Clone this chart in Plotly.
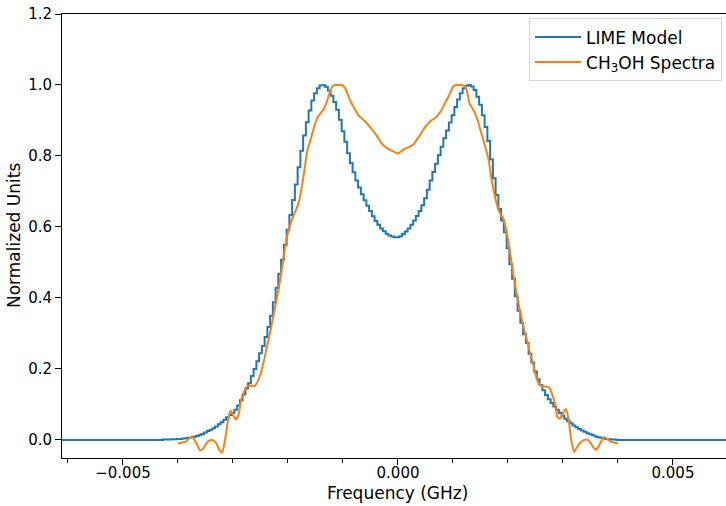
import numpy as np
import plotly.graph_objects as go

# LIME model (step spectrum), channel width 0.00005 GHz, first channel at -0.0044 GHz
lime_start = -0.0044
lime_chan = 0.00005
lime_values = [
    0.000, 0.000, 0.000, 0.001, 0.001, 0.001, 0.002, 0.002, 0.003, 0.003,
    0.004, 0.005, 0.006, 0.007, 0.009, 0.011, 0.014, 0.017, 0.021, 0.025,
    0.029, 0.033, 0.038, 0.044, 0.050, 0.057, 0.064, 0.070, 0.077, 0.085,
    0.097, 0.112, 0.128, 0.145, 0.160, 0.180, 0.200, 0.222, 0.244, 0.265,
    0.290, 0.318, 0.350, 0.388, 0.428, 0.468, 0.508, 0.550, 0.592, 0.634,
    0.676, 0.720, 0.768, 0.815, 0.858, 0.895, 0.928, 0.956, 0.977, 0.991,
    0.999, 0.999, 0.995, 0.984, 0.970, 0.952, 0.930, 0.902, 0.870, 0.840,
    0.808, 0.780, 0.754, 0.731, 0.711, 0.692, 0.675, 0.660, 0.645, 0.630,
    0.617, 0.606, 0.596, 0.588, 0.581, 0.576, 0.573, 0.571, 0.571, 0.574,
    0.580, 0.587, 0.596, 0.606, 0.618, 0.631, 0.645, 0.661, 0.681, 0.705,
    0.731, 0.755, 0.778, 0.802, 0.826, 0.850, 0.872, 0.894, 0.915, 0.938,
    0.959, 0.977, 0.991, 0.998, 1.000, 0.996, 0.986, 0.967, 0.944, 0.915,
    0.882, 0.842, 0.790, 0.737, 0.690, 0.651, 0.618, 0.585, 0.540, 0.495,
    0.454, 0.405, 0.364, 0.330, 0.298, 0.273, 0.243, 0.218, 0.193, 0.171,
    0.155, 0.140, 0.127, 0.115, 0.104, 0.094, 0.085, 0.076, 0.068, 0.060,
    0.053, 0.047, 0.041, 0.036, 0.031, 0.027, 0.023, 0.019, 0.016, 0.013,
    0.010, 0.008, 0.006, 0.004, 0.003, 0.002, 0.001, 0.001, 0.000, 0.000,
    0.000, 0.000, 0.000, 0.000, 0.000, 0.000, 0.000,
]
lime_edges_freq = [-0.0065, 0.0065]  # model continues flat at zero to both ends

# CH3OH spectrum, sampled every 0.00005 GHz from -0.0040 GHz
ch3oh_start = -0.0040
ch3oh_chan = 0.00005
ch3oh_values = [
    -0.010, -0.008, -0.006, -0.004, 0.004, 0.008, 0.001, -0.014, -0.029, -0.026,
    -0.013, -0.004, 0.000, -0.002, -0.010, -0.028, -0.036, -0.005, 0.045, 0.082,
    0.072, 0.058, 0.070, 0.115, 0.135, 0.150, 0.153, 0.152, 0.153, 0.165,
    0.185, 0.215, 0.250, 0.285, 0.322, 0.362, 0.402, 0.444, 0.494, 0.545,
    0.585, 0.612, 0.632, 0.650, 0.672, 0.712, 0.762, 0.815, 0.840, 0.868,
    0.895, 0.912, 0.922, 0.932, 0.950, 0.975, 0.995, 1.000, 1.000, 1.000,
    0.998, 0.988, 0.967, 0.950, 0.936, 0.922, 0.912, 0.905, 0.898, 0.889,
    0.880, 0.870, 0.860, 0.848, 0.836, 0.828, 0.822, 0.818, 0.814, 0.810,
    0.807, 0.812, 0.818, 0.822, 0.825, 0.829, 0.836, 0.848, 0.858, 0.872,
    0.883, 0.892, 0.899, 0.905, 0.910, 0.920, 0.932, 0.948, 0.962, 0.978,
    0.995, 1.000, 1.000, 1.000, 0.998, 0.985, 0.948, 0.935, 0.920, 0.900,
    0.872, 0.846, 0.818, 0.787, 0.736, 0.695, 0.662, 0.640, 0.628, 0.605,
    0.565, 0.515, 0.463, 0.418, 0.378, 0.341, 0.305, 0.278, 0.245, 0.218,
    0.185, 0.162, 0.153, 0.151, 0.150, 0.148, 0.130, 0.105, 0.065, 0.060,
    0.075, 0.087, 0.060, 0.000, -0.034, -0.022, -0.010, -0.003, 0.001, 0.000,
    -0.008, -0.020, -0.028, -0.018, -0.002, 0.008, 0.004, -0.003, -0.006, -0.008,
    -0.009,
]

x_ticks = [-0.005, 0.0, 0.005]
x_tick_text = ["\u22120.005", "0.000", "0.005"]
y_ticks = [0.0, 0.2, 0.4, 0.6, 0.8, 1.0, 1.2]
x_range = [-0.006109, 0.005964]
y_range = [-0.0508, 1.2]

lime_freq = lime_start + lime_chan * np.arange(len(lime_values))
ch3oh_freq = ch3oh_start + ch3oh_chan * np.arange(len(ch3oh_values))

lx = [lime_edges_freq[0]] + list(lime_freq) + [lime_edges_freq[1]]
ly = [0.0] + list(lime_values) + [0.0]

FONT = "DejaVu Sans"
LABEL_SIZE = 17
TICK_SIZE = 15

fig = go.Figure()
fig.add_trace(go.Scatter(
    x=lx, y=ly, mode="lines", name="LIME Model",
    line=dict(color="#1f77b4", width=2, shape="hvh"),
))
fig.add_trace(go.Scatter(
    x=ch3oh_freq, y=ch3oh_values, mode="lines", name="CH<sub>3</sub>OH Spectra",
    line=dict(color="#ff7f0e", width=2, shape="spline", smoothing=0.6),
))

fig.update_layout(
    width=726, height=506,
    margin=dict(l=62, r=0, t=14, b=48),
    paper_bgcolor="white", plot_bgcolor="white",
    font=dict(family=FONT, size=TICK_SIZE, color="black"),
    showlegend=True,
    legend=dict(
        x=0.994, y=0.99, xanchor="right", yanchor="top",
        bgcolor="rgba(255,255,255,0.8)", bordercolor="#d6d6d6", borderwidth=1,
        font=dict(family=FONT, size=LABEL_SIZE, color="black"),
        tracegroupgap=0, itemwidth=46,
    ),
    xaxis=dict(
        range=x_range, tickvals=x_ticks, ticktext=x_tick_text,
        showgrid=False, zeroline=False,
        showline=True, linecolor="black", linewidth=1, mirror=True,
        ticks="outside", ticklen=6, tickwidth=1, tickcolor="black",
        ticklabelstandoff=-5,
        minor=dict(dtick=0.001, tick0=0, ticks="outside", ticklen=3.5, tickwidth=1,
                   tickcolor="black", showgrid=False),
        tickfont=dict(family=FONT, size=TICK_SIZE),
    ),
    yaxis=dict(
        range=y_range, tickvals=y_ticks, tickformat=".1f",
        showgrid=False, zeroline=False,
        showline=True, linecolor="black", linewidth=1, mirror=False,
        ticks="outside", ticklen=6, tickwidth=1, tickcolor="black",
        tickfont=dict(family=FONT, size=TICK_SIZE),
    ),
)

fig.add_annotation(
    text="Frequency (GHz)", xref="x", yref="paper", x=0.0, y=0,
    yshift=-35, showarrow=False, font=dict(family=FONT, size=LABEL_SIZE),
    xanchor="center", yanchor="middle",
)
fig.add_annotation(
    text="Normalized Units", xref="paper", yref="paper", x=0, y=0.5,
    xshift=-48, textangle=-90, showarrow=False, font=dict(family=FONT, size=LABEL_SIZE),
    xanchor="center", yanchor="middle",
)

fig.write_html("out.html")
